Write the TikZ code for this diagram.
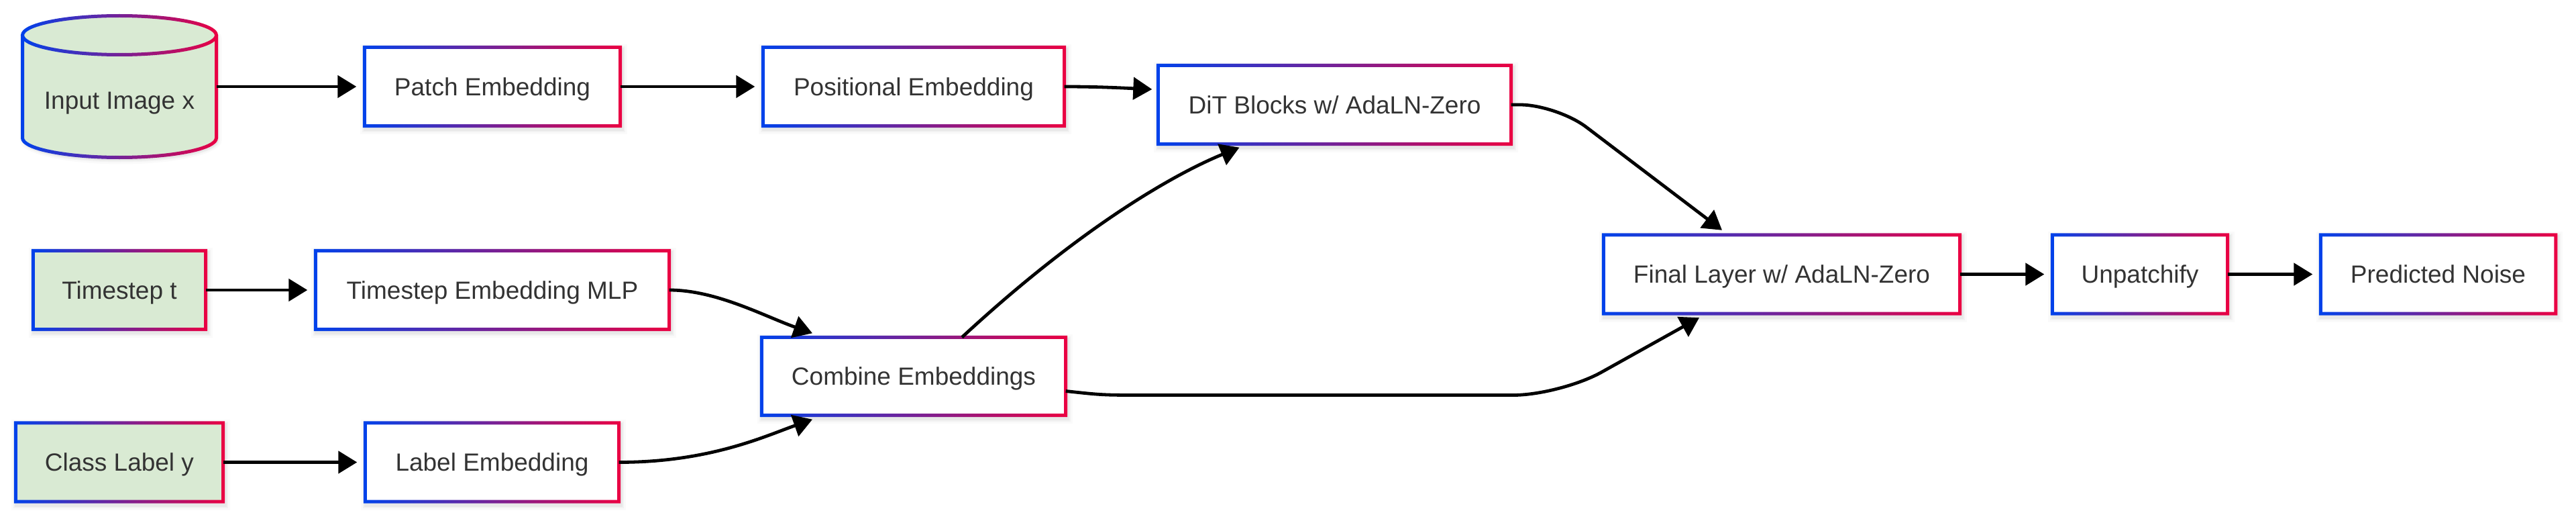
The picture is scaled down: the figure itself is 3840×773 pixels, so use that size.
\documentclass[tikz,border=0pt]{standalone}
\usepackage{fontspec}
\setmainfont{Liberation Sans}
\usetikzlibrary{arrows.meta}
\definecolor{cblue}{HTML}{0042EB}
\definecolor{cred}{HTML}{EB0042}
\definecolor{gfill}{HTML}{D9EAD3}
\definecolor{tgray}{HTML}{333333}
\pgfdeclarelayer{bg}
\pgfsetlayers{bg,main}
\tikzset{
  lbltext/.style={inner sep=0pt, text=tgray, font=\fontsize{37}{44}\selectfont, text height=26.5pt, text depth=0pt},
  boxnode/.style={lbltext, rectangle, minimum height=117pt, minimum width=#1, fill=white},
  gnode/.style={boxnode=#1, fill=gfill},
  arr/.style={line width=4.8pt, black, -{Triangle[length=28pt,width=33pt]}},
  sarr/.style={arr, shorten >=12pt},
}
\newcommand\gframe[1]{%
  \shade[left color=cblue, right color=cred, even odd rule]
    ([shift={(-2.5,2.5)}]#1.north west) rectangle ([shift={(2.5,-2.5)}]#1.south east)
    ([shift={(2.5,-2.5)}]#1.north west) rectangle ([shift={(-2.5,2.5)}]#1.south east);}
\newcommand\gshadow[1]{%
  \foreach \e/\o in {1/0.04,3/0.03,6/0.02}{%
    \fill[black, opacity=\o] ([shift={({-0.5-\e},{-1.5+\e})}]#1.north west) rectangle ([shift={({4.5+\e},{-6.5-\e})}]#1.south east);
  }}
\begin{document}
\begin{tikzpicture}[x=1pt,y=1pt]
\begin{pgfonlayer}{bg}
  \fill[white] (0,0) rectangle (3840,-773);
\end{pgfonlayer}
\useasboundingbox (0,0) rectangle (3840,-773);

% cylinder
\begin{pgfonlayer}{bg}
  \foreach \e/\o in {1/0.04,3/0.03,6/0.02}{%
    \fill[black, opacity=\o, shift={(2,-4)}] (33.5-\e,-52.5) -- (33.5-\e,-205.5) arc[start angle=180,end angle=360,x radius=144.5+\e,y radius=29+\e] -- (322.5+\e,-52.5) arc[start angle=0,end angle=180,x radius=144.5+\e,y radius=29+\e] -- cycle;
  }
\end{pgfonlayer}
\fill[gfill] (33.5,-52.5) -- (33.5,-205.5) arc[start angle=180,end angle=360,x radius=144.5,y radius=29] -- (322.5,-52.5) arc[start angle=0,end angle=180,x radius=144.5,y radius=29] -- cycle;
\foreach \i in {0,...,61}{
  \pgfmathsetmacro\cxa{27+5*\i}
  \pgfmathtruncatemacro\cpct{max(0,min(100,(\cxa+2.5-31)/2.94))}
  \begin{scope}
    \clip (\cxa,-5) rectangle ++(5.4,-250);
    \draw[line width=5pt, cred!\cpct!cblue] (178,-52.5) ellipse [x radius=144.5, y radius=29];
    \draw[line width=5pt, cred!\cpct!cblue] (33.5,-52.5) -- (33.5,-205.5) arc[start angle=180,end angle=360,x radius=144.5,y radius=29] -- (322.5,-52.5);
  \end{scope}
}
\node[inner sep=0pt, minimum width=289pt, minimum height=211pt] (img) at (178,-129) {};
\node[lbltext] (imgl) at (178,-149) {Input Image x};

% boxes
\node[gnode=257pt] (tstep) at (178,-432) {Timestep t};
\node[gnode=309pt] (cls) at (178,-688.5) {Class Label y};
\node[boxnode=381pt] (patch) at (734,-129) {Patch Embedding};
\node[boxnode=527pt] (mlp) at (734,-432) {Timestep Embedding MLP};
\node[boxnode=378pt] (lemb) at (733.5,-688.5) {Label Embedding};
\node[boxnode=449pt] (pos) at (1362,-129) {Positional Embedding};
\node[boxnode=453pt, minimum height=116pt] (comb) at (1362,-560.5) {Combine Embeddings};
\node[boxnode=526pt] (dit) at (1989.5,-156) {DiT Blocks w/ AdaLN-Zero};
\node[boxnode=531pt] (final) at (2656,-408.5) {Final Layer w/ AdaLN-Zero};
\node[boxnode=261pt] (unp) at (3190,-408.5) {Unpatchify};
\node[boxnode=350pt] (pred) at (3634.5,-408.5) {Predicted Noise};

\begin{pgfonlayer}{bg}
  \foreach \n in {tstep,cls,patch,mlp,lemb,pos,comb,dit,final,unp,pred}{\gshadow{\n}}
\end{pgfonlayer}
\foreach \n in {tstep,cls,patch,mlp,lemb,pos,comb,dit,final,unp,pred}{\gframe{\n}}

% connectors
\draw[sarr] (img.east) -- (patch.west);
\draw[sarr] (patch.east) -- (pos.west);
\draw[sarr] (tstep.east) -- (mlp.west);
\draw[sarr] (cls.east) -- (lemb.west);
\draw[sarr] (final.east) -- (unp.west);
\draw[sarr] (unp.east) -- (pred.west);

\coordinate (pd) at ([xshift=-9pt,yshift=23pt]dit.west);
\draw[arr] (pos.east) .. controls +(50,0) and +(-45,2) .. (pd);

\coordinate (c1) at ([xshift=-151pt,yshift=6pt]comb.north);
\draw[arr] (mlp.east) .. controls +(70,0) and +(-71,25) .. (c1);

\coordinate (c2) at ([xshift=-151pt,yshift=-6pt]comb.south);
\draw[arr] (lemb.east) .. controls +(135,0) and +(-71,-25) .. (c2);

\coordinate (s3) at ([xshift=72pt]comb.north);
\coordinate (d3) at ([xshift=-142pt,yshift=-5pt]dit.south);
\draw[arr] (s3) .. controls +(186,172) and +(-87.5,-35.5) .. (d3);

\coordinate (k1) at ([xshift=68pt]dit.east);
\coordinate (f1) at ([xshift=-89pt,yshift=7pt]final.north);
\draw[arr, rounded corners=55pt] (dit.east) -- (k1) -- (f1);

\coordinate (s4) at ([yshift=-22pt]comb.east);
\coordinate (h1) at ([xshift=120pt,yshift=-28pt]comb.east);
\coordinate (fx) at ([xshift=-330pt]final.south);
\coordinate (k2) at (fx |- h1);
\coordinate (f2) at ([xshift=-123pt,yshift=-6pt]final.south);
\draw[arr] (s4) .. controls +(55,-6) .. (h1) [rounded corners=70pt] -- (k2) -- (f2);
\end{tikzpicture}
\end{document}
